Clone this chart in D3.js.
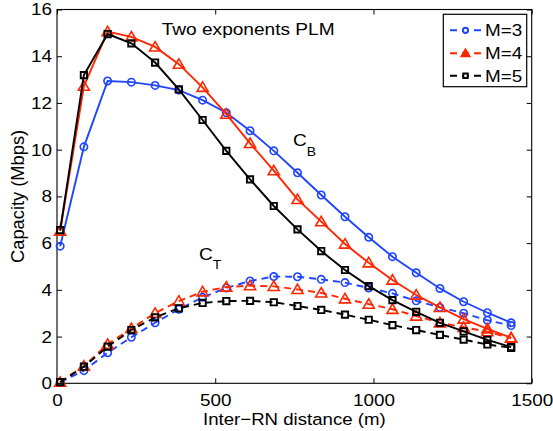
<!DOCTYPE html>
<html>
<head>
<meta charset="utf-8">
<script src="https://cdn.jsdelivr.net/npm/d3@7"></script>
<style>
  html, body { margin: 0; padding: 0; background: #fff; }
  svg text { font-family: "Liberation Sans", Arial, Helvetica, sans-serif; fill: #000; }
</style>
</head>
<body>
<svg id="chart" width="553" height="431"></svg>
<script>
// Inter-RN distance (m) for each sample
const distances = [10, 85, 160, 235, 310, 385, 460, 535, 610, 685, 760, 835, 910, 985, 1060, 1135, 1210, 1285, 1360, 1435];

// C_B capacity (Mbps), solid lines
const cbM3 = [5.87, 10.12, 12.94, 12.89, 12.75, 12.55, 12.12, 11.58, 10.81, 9.95, 9.01, 8.06, 7.13, 6.25, 5.42, 4.73, 4.06, 3.49, 3.02, 2.59];
const cbM4 = [6.52, 12.72, 15.05, 14.83, 14.40, 13.66, 12.67, 11.52, 10.27, 9.10, 7.87, 6.92, 5.96, 5.16, 4.42, 3.78, 3.25, 2.75, 2.33, 1.95];
const cbM5 = [6.56, 13.19, 14.95, 14.55, 13.73, 12.58, 11.27, 9.95, 8.73, 7.59, 6.59, 5.66, 4.85, 4.16, 3.56, 3.06, 2.59, 2.22, 1.86, 1.55];

// C_T capacity (Mbps), dashed lines
const ctM3 = [0.05, 0.54, 1.31, 1.97, 2.59, 3.17, 3.68, 4.08, 4.38, 4.57, 4.56, 4.45, 4.31, 4.08, 3.85, 3.53, 3.25, 3.00, 2.70, 2.47];
const ctM4 = [0.05, 0.74, 1.67, 2.35, 3.00, 3.52, 3.92, 4.12, 4.18, 4.15, 4.02, 3.87, 3.62, 3.39, 3.17, 2.88, 2.59, 2.40, 2.21, 1.93];
const ctM5 = [0.05, 0.71, 1.57, 2.28, 2.82, 3.21, 3.44, 3.52, 3.53, 3.47, 3.31, 3.14, 2.94, 2.72, 2.49, 2.28, 2.07, 1.87, 1.66, 1.52];

const legendLabels = ["M=3", "M=4", "M=5"];
const xTicks = [0, 500, 1000, 1500];
const yTicks = [0, 2, 4, 6, 8, 10, 12, 14, 16];

const titleText = "Two exponents PLM";
const xLabel = "Inter\u2212RN distance (m)";
const yLabel = "Capacity (Mbps)";

const BLUE = "#1f45ff", RED = "#ff2600", BLACK = "#000";

const series = [
  { cb: cbM3, ct: ctM3, color: BLUE,  marker: "circle" },
  { cb: cbM4, ct: ctM4, color: RED,   marker: "triangle" },
  { cb: cbM5, ct: ctM5, color: BLACK, marker: "square" }
];

const svg = d3.select("#chart");
const L = 57, R = 531.7, T = 9.5, B = 383.3;

const x = d3.scaleLinear().domain([0, 1500]).range([L, R]);
const y = d3.scaleLinear().domain([0, 16]).range([B, T]);

// text is set slightly wide, like the printed figure's Helvetica
const FS = 17;
const SX = 1.11;

function styleAxis(g) {
  g.select(".domain").remove();
  g.selectAll(".tick line").attr("stroke", "#000").attr("stroke-width", 1);
  g.selectAll(".tick text").style("font-size", FS + "px").attr("fill", "#000")
    .attr("transform", `scale(${SX},1)`)
    .style("font-family", '"Liberation Sans", Arial, Helvetica, sans-serif');
}

// axes with inward ticks on all four sides
svg.append("g").attr("transform", `translate(0,${B})`)
  .call(d3.axisBottom(x).tickValues(xTicks).tickSize(-5).tickPadding(11).tickFormat(d3.format("d")))
  .call(styleAxis);
svg.append("g").attr("transform", `translate(0,${T})`)
  .call(d3.axisTop(x).tickValues(xTicks).tickSize(-5).tickFormat(""))
  .call(styleAxis);
svg.append("g").attr("transform", `translate(${L},0)`)
  .call(d3.axisLeft(y).tickValues(yTicks).tickSize(-5).tickPadding(4.5).tickFormat(d3.format("d")))
  .call(styleAxis);
svg.append("g").attr("transform", `translate(${R},0)`)
  .call(d3.axisRight(y).tickValues(yTicks).tickSize(-5).tickFormat(""))
  .call(styleAxis);

// plot frame
svg.append("rect").attr("x", L).attr("y", T).attr("width", R - L).attr("height", B - T)
  .attr("fill", "none").attr("stroke", "#000").attr("stroke-width", 1.1);

// marker shapes
function markerPath(kind, s) {
  if (kind === "circle") return d3.symbol(d3.symbolCircle, Math.PI * s * s)();
  if (kind === "triangle") return `M0,${-5.2 * s / 3.6}L${5.4 * s / 3.6},${4 * s / 3.6}L${-5.4 * s / 3.6},${4 * s / 3.6}Z`;
  const h = s * 0.85;
  return `M${-h},${-h}H${h}V${h}H${-h}Z`;
}

const line = d3.line().x((d, i) => x(distances[i])).y(d => y(d));
const plot = svg.append("g");

series.forEach(s => {
  [["cb", null], ["ct", "7,5"]].forEach(([key, dash]) => {
    const vals = s[key];
    plot.append("path").datum(vals)
      .attr("d", line)
      .attr("fill", "none")
      .attr("stroke", s.color)
      .attr("stroke-width", 1.9)
      .attr("stroke-dasharray", dash);
    plot.append("g").selectAll("path").data(vals).join("path")
      .attr("transform", (d, i) => `translate(${x(distances[i])},${y(d)})`)
      .attr("d", markerPath(s.marker, 3.7))
      .attr("fill", "none")
      .attr("stroke", s.color)
      .attr("stroke-width", s.marker === "square" ? 1.9 : 1.6);
  });
});

// helper for wide-set text placed at (px, py)
function wideText(px, py, size, anchor) {
  return svg.append("text")
    .attr("transform", `translate(${px},${py}) scale(${SX},1)`)
    .attr("text-anchor", anchor || "start")
    .style("font-size", size + "px");
}

// annotations
wideText(161.7, 34.5, 17.2).text(titleText);

const cb = wideText(293, 146, 17.2);
cb.append("tspan").text("C");
cb.append("tspan").attr("dy", 10).style("font-size", "12.5px").text("B");

const ct = wideText(199, 259.5, 17.2);
ct.append("tspan").text("C");
ct.append("tspan").attr("dy", 9).style("font-size", "12.5px").text("T");

// axis labels
wideText((L + R) / 2, 424.5, 16.8, "middle").text(xLabel);
svg.append("text").attr("transform", `translate(24,${(T + B) / 2}) rotate(-90)`)
  .attr("text-anchor", "middle").style("font-size", "18.3px").text(yLabel);

// legend
const lg = svg.append("g");
lg.append("rect").attr("x", 443.3).attr("y", 14.3).attr("width", 83.4).attr("height", 72.4)
  .attr("fill", "#fff").attr("stroke", "#000").attr("stroke-width", 1.2);
const rowY = [30.3, 53.3, 75.7];
series.forEach((s, i) => {
  const yy = rowY[i];
  lg.append("line").attr("x1", 450).attr("x2", 482).attr("y1", yy).attr("y2", yy)
    .attr("stroke", s.color).attr("stroke-width", 1.9).attr("stroke-dasharray", "7,5");
  lg.append("path").attr("transform", `translate(465.5,${yy})`)
    .attr("d", markerPath(s.marker, 2.6))
    .attr("fill", s.marker === "triangle" ? s.color : "#fff")
    .attr("stroke", s.color).attr("stroke-width", 2);
  wideText(485, yy + 6.1, 17).text(legendLabels[i]);
});
</script>
</body>
</html>
